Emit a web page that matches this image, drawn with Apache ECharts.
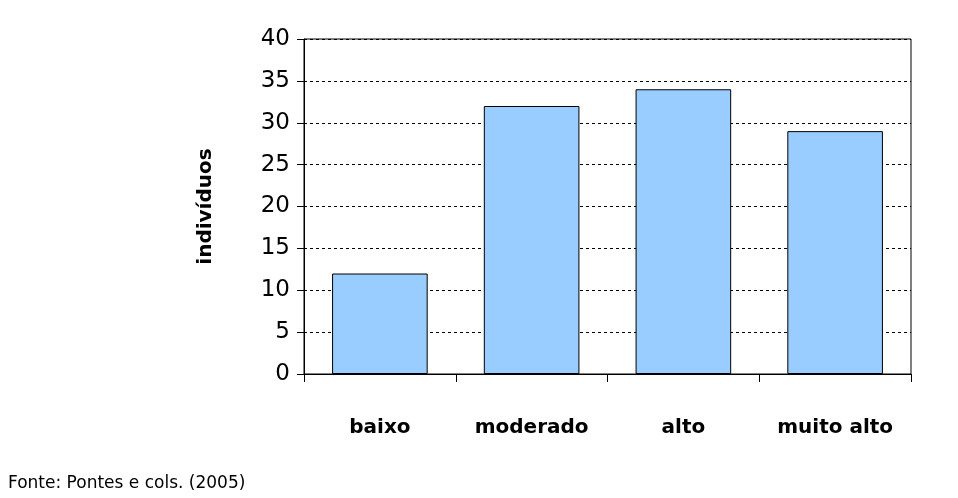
<!DOCTYPE html>
<html>
<head>
<meta charset="utf-8">
<script src="https://cdn.jsdelivr.net/npm/echarts@6/dist/echarts.min.js"></script>
<style>html,body{margin:0;padding:0;background:#fff}#main{width:958px;height:498px}</style>
</head>
<body>
<div id="main"></div>
<script>
var categories = ['baixo', 'moderado', 'alto', 'muito alto'];
var values = [12, 32, 34, 29];

var myChart = echarts.init(document.getElementById('main'));
var option = {
    animation: false,
    textStyle: { fontFamily: 'DejaVu Sans' },
    graphic: [{
        type: 'text', left: 8, top: 475,
        style: { text: 'Fonte: Pontes e cols. (2005)', font: '17px DejaVu Sans', fill: '#000' }
    }],
    grid: { left: 304, right: 47, top: 39, bottom: 124, show: true, borderColor: '#000', borderWidth: 1 },
    xAxis: {
        type: 'category',
        data: categories,
        axisLine: { lineStyle: { color: '#000' } },
        axisTick: { show: true, length: 8, lineStyle: { color: '#000' } },
        axisLabel: { color: '#000', fontSize: 20, fontWeight: 'bold', margin: 44 }
    },
    yAxis: {
        type: 'value',
        min: 0, max: 40, interval: 5,
        name: 'indivíduos',
        nameLocation: 'middle',
        nameGap: 88,
        nameTextStyle: { color: '#000', fontSize: 20, fontWeight: 'bold' },
        axisLine: { show: true, lineStyle: { color: '#000' } },
        axisTick: { show: true, length: 7, lineStyle: { color: '#000' } },
        axisLabel: { color: '#000', fontSize: 23, margin: 14 },
        splitLine: { lineStyle: { color: '#000', type: [3, 3] } }
    },
    series: [{
        type: 'bar',
        data: values,
        barWidth: '63%',
        itemStyle: { color: '#99ccff', borderColor: '#000', borderWidth: 1 }
    }]
};
myChart.setOption(option);
</script>
</body>
</html>
